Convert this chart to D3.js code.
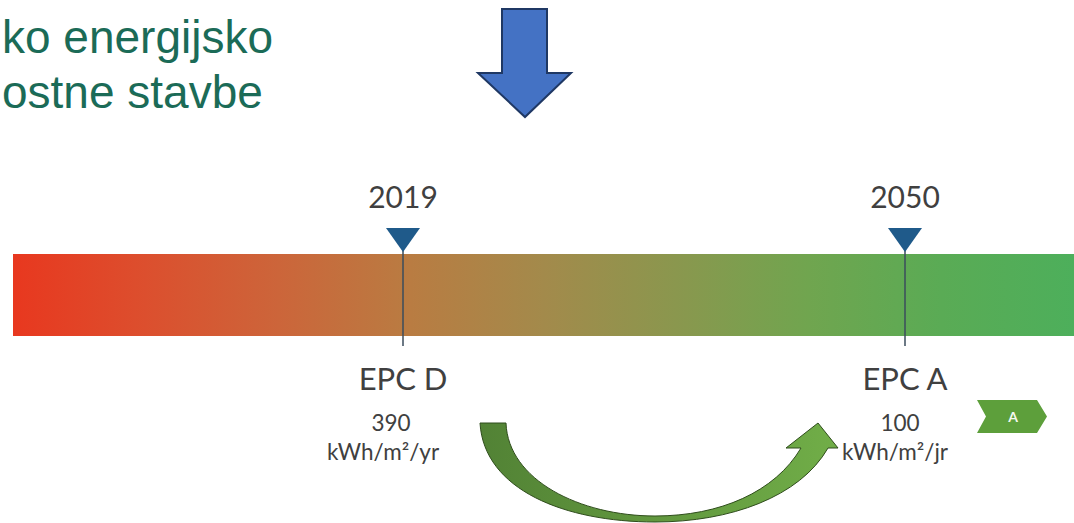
<!DOCTYPE html>
<html>
<head>
<meta charset="utf-8">
<script src="https://cdn.jsdelivr.net/npm/d3@7/dist/d3.min.js"></script>
<style>
  html, body { margin: 0; padding: 0; background: #ffffff; }
  svg { display: block; }
</style>
</head>
<body>
<svg id="chart" width="1074" height="523"></svg>
<script>
// ---- data ----
const titleLines = ["ko energijsko", "ostne stavbe"];
const years = [2019, 2050];
const classes = ["EPC D", "EPC A"];
const values = [390, 100];
const units = ["kWh/m²/yr", "kWh/m²/jr"];
const badgeLabel = "A";
const gradientColors = ["#e8381f", "#dc4f2e", "#cc653a", "#b97c42", "#a38a4b", "#8a974e", "#70a54f", "#5aab55", "#4daf5b"];

const W = 1074, H = 523;
const svg = d3.select("#chart");

// scale mapping years to horizontal positions
const x = d3.scaleLinear().domain([2019, 2050]).range([403, 905]);
const barX0 = 13, barX1 = 1074, barY0 = 254, barY1 = 336;
// small per-label horizontal nudges (layout only)
const valueShift = [-12, -5];
const unitShift = [-20, -10];

// gradients
const defs = svg.append("defs");
const grad = defs.append("linearGradient").attr("id", "barGrad")
  .attr("gradientUnits", "userSpaceOnUse")
  .attr("x1", barX0).attr("x2", barX1).attr("y1", 0).attr("y2", 0);
const stopScale = d3.scaleLinear().domain([0, gradientColors.length - 1]).range([0, 1]);
gradientColors.forEach((c, i) => {
  grad.append("stop").attr("offset", stopScale(i)).attr("stop-color", c);
});
const arrowGrad = defs.append("linearGradient").attr("id", "arrowGrad")
  .attr("gradientUnits", "userSpaceOnUse")
  .attr("x1", 480).attr("x2", 840).attr("y1", 0).attr("y2", 0);
arrowGrad.append("stop").attr("offset", 0).attr("stop-color", "#528235");
arrowGrad.append("stop").attr("offset", 1).attr("stop-color", "#71ae48");

// title text
svg.append("g").selectAll("text").data(titleLines).join("text")
  .attr("x", 2)
  .attr("y", (d, i) => 53 + i * 55)
  .attr("font-family", "Liberation Sans, Arial, sans-serif")
  .attr("font-size", 46)
  .attr("fill", "#1b6b57")
  .text(d => d);

// blue down arrow
svg.append("path")
  .attr("d", "M502,9 L547,9 L547,73 L571,73 L525,117 L478,73 L502,73 Z")
  .attr("fill", "#4472c4")
  .attr("stroke", "#1f3864")
  .attr("stroke-width", 2)
  .attr("stroke-linejoin", "miter");

// gradient bar
svg.append("rect")
  .attr("x", barX0).attr("y", barY0)
  .attr("width", barX1 - barX0).attr("height", barY1 - barY0)
  .attr("fill", "url(#barGrad)");

const font = "Lato, Carlito, Calibri, 'Open Sans', sans-serif";

// markers
const mk = svg.append("g").selectAll("g").data(years).join("g")
  .attr("transform", d => `translate(${x(d)},0)`);
mk.append("line")
  .attr("x1", 0).attr("x2", 0).attr("y1", 240).attr("y2", 346)
  .attr("stroke", "#3b4c5c").attr("stroke-width", 1.5);
mk.append("path")
  .attr("d", "M-17,228 L17,228 L0,252 Z")
  .attr("fill", "#1f5a8a");
mk.append("text")
  .attr("x", 0).attr("y", 208)
  .attr("text-anchor", "middle")
  .attr("font-family", font).attr("font-size", 30)
  .attr("fill", "#404040")
  .text(d => d);

// labels below
const lb = svg.append("g").selectAll("g").data(years).join("g")
  .attr("transform", d => `translate(${x(d)},0)`);
lb.append("text")
  .attr("x", 0).attr("y", 390).attr("text-anchor", "middle")
  .attr("font-family", font).attr("font-size", 31)
  .attr("fill", "#404040")
  .text((d, i) => classes[i]);
lb.append("text")
  .attr("x", (d, i) => valueShift[i]).attr("y", 431).attr("text-anchor", "middle")
  .attr("font-family", font).attr("font-size", 22.5)
  .attr("fill", "#404040")
  .text((d, i) => values[i]);
lb.append("text")
  .attr("x", (d, i) => unitShift[i]).attr("y", 460).attr("text-anchor", "middle")
  .attr("font-family", font).attr("font-size", 22.5)
  .attr("fill", "#404040")
  .text((d, i) => units[i]);

// green curved arrow
svg.append("path")
  .attr("d", "M480,423 L506,423 C508,480 580,516 655,516 C720,516 775,492 801,448 L786,448 L818,423 L838,448 L828,448 C800,497 730,522 655,522 C565,522 484,490 480,423 Z")
  .attr("fill", "url(#arrowGrad)")
  .attr("stroke", "#2f4d1c")
  .attr("stroke-width", 1);

// A badge
const bx = 977, by = 400, bw = 70, bh = 33;
svg.append("path")
  .attr("d", `M${bx},${by} L${bx + bw - 10},${by} L${bx + bw},${by + bh / 2} L${bx + bw - 10},${by + bh} L${bx},${by + bh} L${bx + 9},${by + bh / 2} Z`)
  .attr("fill", "#5d9f3b");
svg.append("text")
  .attr("x", bx + bw / 2 + 1).attr("y", by + bh / 2 + 5)
  .attr("text-anchor", "middle")
  .attr("font-family", font).attr("font-size", 14).attr("font-weight", "bold")
  .attr("fill", "#f4f8ef")
  .text(badgeLabel);
</script>
</body>
</html>
